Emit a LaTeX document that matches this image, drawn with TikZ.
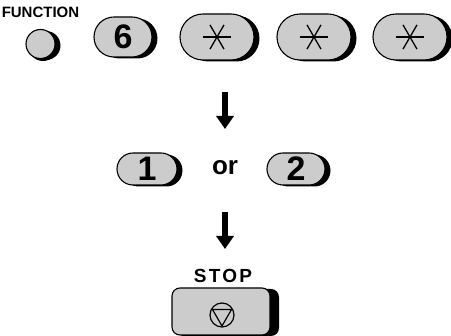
\documentclass[tikz,border=0pt]{standalone}
\usepackage{fontspec}
\setmainfont{Liberation Sans}
\usetikzlibrary{arrows.meta,shapes.misc,shadows}
\definecolor{keygray}{gray}{0.8}

\begin{document}
\begin{tikzpicture}[x=1pt,y=-1pt,
  key/.style={draw=black,line width=1.1pt,fill=keygray,inner sep=0pt,
    general shadow={fill=black,shadow xshift=5.5pt,shadow yshift=-1.5pt}},
  pill/.style={key,rounded rectangle,font=\bfseries\fontsize{34}{34}\selectfont},
  lbl/.style={inner sep=0pt,font=\bfseries\fontsize{15}{15}\selectfont},
  starline/.style={line width=1.3pt},
  arr/.style={line width=6pt,-{Triangle[width=17pt,length=13pt]}}]
\useasboundingbox (0,0) rectangle (451,336);
\node[lbl] (Ftxt) at (40.5,12.5) {FUNCTION};
\node[key,circle,minimum size=29pt,
  general shadow={fill=black,shadow xshift=2.5pt,shadow yshift=-2.5pt}] (F) at (40.5,44) {};
\node[pill,minimum width=58pt,minimum height=40pt] (K6) at (123,37) {6};
\node[pill,minimum width=74pt,minimum height=46pt] (S1) at (217,37) {};
\node[pill,minimum width=74pt,minimum height=46pt] (S2) at (314,37) {};
\node[pill,minimum width=74pt,minimum height=46pt] (S3) at (410,37) {};
\foreach \k in {S1,S2,S3}
  \foreach \a in {0,60,120}
    \draw[starline] ([shift={(\a:14)}]\k.center) -- ([shift={(\a+180:14)}]\k.center);
\node[pill,minimum width=60pt,minimum height=32pt] (K1) at (147,169) {1};
\node[lbl,font=\bfseries\fontsize{26}{26}\selectfont] (or) at (225,168) {or};
\node[pill,minimum width=58pt,minimum height=32pt] (K2) at (296,169) {2};
\node[lbl,font=\bfseries\fontsize{19}{19}\selectfont\addfontfeature{LetterSpace=12}] (stoptxt) at (223,276) {STOP};
\node[key,rounded corners=8pt,minimum width=98pt,minimum height=47pt,
  general shadow={fill=black,shadow xshift=9pt,shadow yshift=-1pt}] (stop) at (221,311.5) {};
\draw[line width=1.2pt] (222,315) circle (12);
\draw[line width=1.2pt,line join=round] (212.5,309.5) -- (231.5,309.5) -- (222,326) -- cycle;
\coordinate (a1) at (225,92);
\coordinate (b1) at (225,129);
\coordinate (a2) at (225,212);
\coordinate (b2) at (225,249);
\path[arr]
(a1) edge (b1)
(a2) edge (b2);
\end{tikzpicture}
\end{document}
